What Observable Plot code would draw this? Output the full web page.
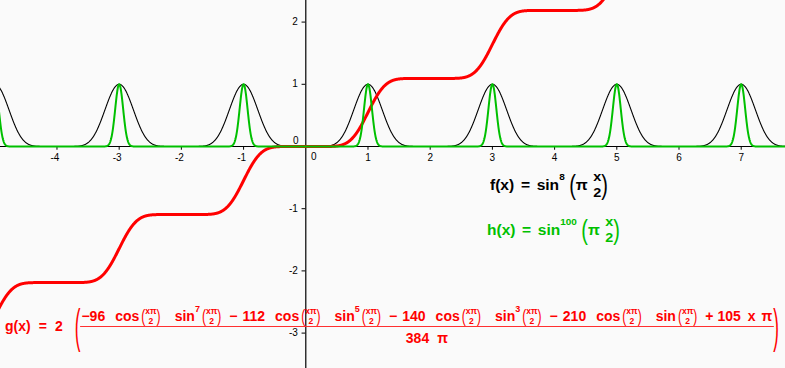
<!DOCTYPE html>
<html><head><meta charset="utf-8">
<script src="https://cdn.jsdelivr.net/npm/d3@7"></script>
<script src="https://cdn.jsdelivr.net/npm/@observablehq/plot@0.6"></script>
<style>
html,body{margin:0;padding:0;background:#fafafa;}
#wrap{position:relative;width:785px;height:368px;overflow:hidden;background:#fafafa;}
#wrap svg{display:block;}
.fm{position:absolute;display:flex;width:max-content;align-items:center;font-family:"Liberation Sans",Arial,sans-serif;font-weight:bold;font-size:14px;white-space:pre;line-height:1;}
.fr{display:inline-flex;flex-direction:column;align-items:center;line-height:1;}
.fr.md{font-size:13px;gap:3px;}
.fr.sm{font-size:8.5px;gap:1px;}
.sup{font-size:9px;position:relative;top:-7px;}
.sp{display:inline-block;}
.par{display:inline-block;font-weight:normal;}
.p1{font-size:18px;transform:scaleY(1.55);}
.p2{font-size:12px;transform:scaleY(1.6);}
.p3{font-size:17px;transform:scaleY(2.75);}
.bigfrac{display:inline-flex;flex-direction:column;align-items:center;}
.num{display:flex;align-items:center;padding:0 1px 1px 1px;}
.den{border-top:1px solid #ff3030;width:100%;text-align:center;padding-top:4px;}
</style>
</head><body>
<div id="wrap"></div>
<script>
// ---- data ----
const xDomain = [-4.908, 7.712];
const yDomain = [-3.569, 2.347];
const xTicks = [-4, -3, -2, -1, 1, 2, 3, 4, 5, 6, 7];
const yTicks = [-3, -2, -1, 1, 2];
const fExponent = 8;           // f(x) = sin^8(pi x/2)
const hExponent = 100;         // h(x) = sin^100(pi x/2)
const gFactor = 2;
const gCoefficients = [-96, -112, -140, -210];
const gSinPowers = [7, 5, 3, 1];
const gLinearCoefficient = 105;
const gDenominator = 384;
const sampleX = d3.range(-4.95, 7.75, 0.004);

// ---- curve definitions (as written in the chart) ----
const f = x => Math.sin(Math.PI * x / 2) ** fExponent;
const h = x => Math.sin(Math.PI * x / 2) ** hExponent;
const g = x => {
  const s = Math.sin(Math.PI * x / 2), c = Math.cos(Math.PI * x / 2);
  let sum = gLinearCoefficient * x * Math.PI;
  gCoefficients.forEach((k, i) => { sum += k * c * s ** gSinPowers[i]; });
  return gFactor * sum / (gDenominator * Math.PI);
};

const font = "Liberation Sans, Arial, sans-serif";
const chart = Plot.plot({
  width: 785, height: 368, margin: 0,
  x: {domain: xDomain, axis: null},
  y: {domain: yDomain, axis: null},
  style: {background: "#fafafa"},
  marks: [
    Plot.ruleY([0], {stroke: "#000", strokeWidth: 1.2}),
    Plot.ruleX([0], {stroke: "#000", strokeWidth: 1.2}),
    Plot.ruleX(xTicks, {x: d => d, y1: 0, y2: -0.06, stroke: "#000"}),
    Plot.ruleY(yTicks, {y: d => d, x1: -0.06, x2: 0, stroke: "#000"}),
    Plot.text(xTicks.filter(d => d > 0), {x: d => d, y: 0, dy: 11, text: d => String(d), fontSize: 10, fontFamily: font, fill: "#000", lineAnchor: "middle"}),
    Plot.text(xTicks.filter(d => d < 0), {x: d => d, y: 0, dy: 11, dx: -2, text: d => String(d), fontSize: 10, fontFamily: font, fill: "#000", lineAnchor: "middle"}),
    Plot.text(yTicks, {x: 0, y: d => d, dx: -8, text: d => String(d), fontSize: 10, fontFamily: font, fill: "#000", textAnchor: "end", lineAnchor: "middle"}),
    Plot.text([0], {x: 0, y: 0, dx: 8, dy: 10, text: d => String(d), fontSize: 10, fontFamily: font, fill: "#000", lineAnchor: "middle"}),
    Plot.text([0], {x: 0, y: 0, dx: -10, dy: -6, text: d => String(d), fontSize: 10, fontFamily: font, fill: "#000", lineAnchor: "middle"}),
    Plot.line(sampleX, {x: d => d, y: f, stroke: "#000", strokeWidth: 1.1, clip: true}),
    Plot.line(sampleX, {x: d => d, y: g, stroke: "#ff0000", strokeWidth: 3, clip: true}),
    Plot.line(sampleX, {x: d => d, y: h, stroke: "#00c000", strokeWidth: 2, clip: true})
  ]
});
const wrap = document.getElementById("wrap");
wrap.appendChild(chart);

// ---- formula labels ----
const sp = n => `<span class="sp" style="width:${n}px"></span>`;
const t = s => `<span>${s}</span>`;
const sup = n => `<span class="sup">${n}</span>`;
const frac = (a, b, cls = "") => `<span class="fr ${cls}"><span>${a}</span><span>${b}</span></span>`;
const par = (cls, c) => `<span class="par ${cls}">${c}</span>`;
const fit = (el, width) => {
  const w = el.getBoundingClientRect().width;
  el.style.transformOrigin = "0 50%";
  el.style.transform = `scaleX(${width / w})`;
};
const powerLabel = (name, n, color, left, top, width) => {
  const el = document.createElement("div");
  el.className = "fm";
  el.style.left = left + "px"; el.style.top = top + "px"; el.style.color = color;
  el.innerHTML = `${t(name + "(x)")}${sp(6)}${t("=")}${sp(6)}${t("sin")}${sup(n)}${sp(4)}${par("p1", "(")}${t("π")}${sp(5)}${frac("x", "2", "md")}${par("p1", ")")}`;
  wrap.appendChild(el);
  fit(el, width);
};
powerLabel("f", fExponent, "#000", 490, 170, 118);
powerLabel("h", hExponent, "#00c000", 487, 215, 133);

const arg = `${par("p2", "(")}${frac("xπ", "2", "sm")}${par("p2", ")")}`;
let num = "";
gCoefficients.forEach((k, i) => {
  const sign = k < 0 ? "−" : "+";
  const lead = i === 0 ? t(`${sign}${Math.abs(k)}`) : `${sp(8)}${t(sign)}${sp(5)}${t(Math.abs(k))}`;
  const p = gSinPowers[i];
  num += `${lead}${sp(10)}${t("cos")}${sp(2)}${arg}${sp(14)}${t("sin")}${p > 1 ? sup(p) : ""}${sp(2)}${arg}`;
});
num += `${sp(8)}${t("+")}${sp(4)}${t(gLinearCoefficient)}${sp(7)}${t("x")}${sp(6)}${t("π")}`;
const gEl = document.createElement("div");
gEl.className = "fm";
gEl.style.left = "5px"; gEl.style.top = "307px"; gEl.style.color = "#ff0000";
gEl.innerHTML = `${t("g(x)")}${sp(8)}${t("=")}${sp(8)}${t(gFactor)}${sp(12)}${par("p3", "(")}<span class="bigfrac"><span class="num">${num}</span><span class="den">${gDenominator}${sp(8)}π</span></span>${par("p3", ")")}`;
wrap.appendChild(gEl);
fit(gEl, 774);
</script>
</body></html>
